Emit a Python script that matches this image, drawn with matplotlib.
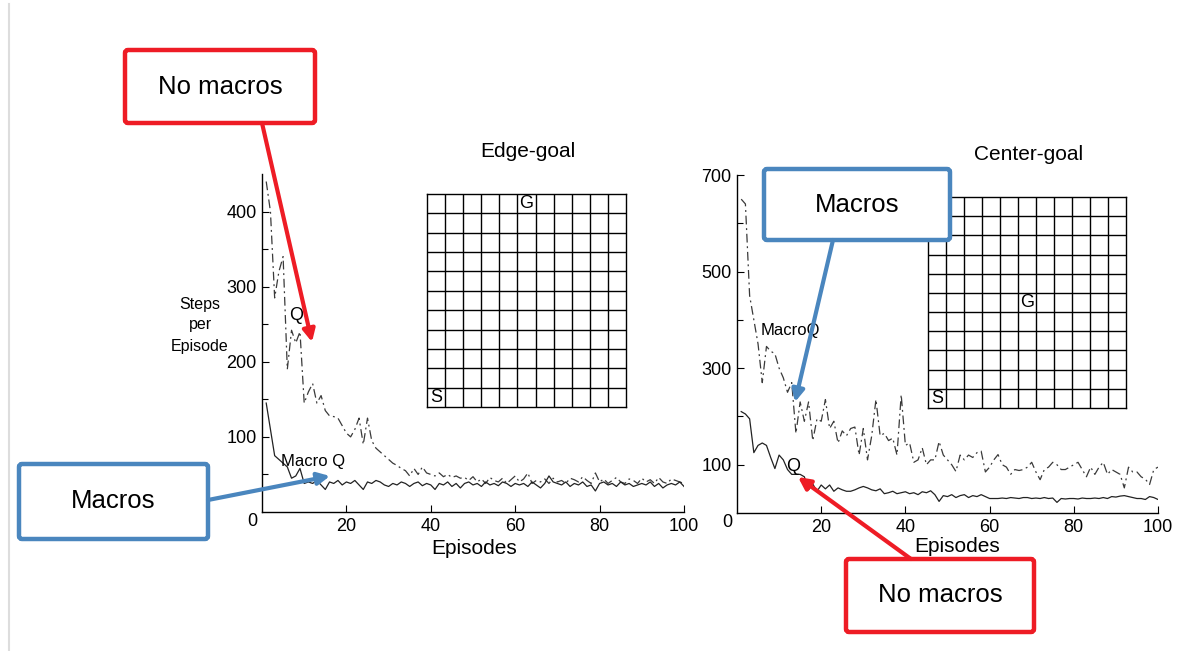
import matplotlib
matplotlib.use("Agg")
import matplotlib.pyplot as plt
from matplotlib.patches import FancyBboxPatch
import numpy as np

plt.rcParams['font.family'] = ['Liberation Sans', 'DejaVu Sans']

# episodes 1..100
episodes = list(range(1, 101))

# Edge-goal: plain Q (dash-dot) and Macro Q (solid)
edge_q = [440, 400, 285, 320, 340, 190, 242, 225, 240, 145,
          160, 171, 145, 155, 135, 128, 127, 125, 115, 105,
          100, 110, 125, 90, 125, 95, 85, 80, 75, 70,
          65, 62, 58, 55, 48, 58, 50, 60, 52, 50,
          48, 52, 47, 50, 46, 48, 45, 46, 42, 47,
          40, 44, 38, 46, 42, 40, 45, 38, 43, 48,
          40, 44, 52, 38, 42, 40, 44, 38, 45, 40,
          42, 38, 45, 43, 40, 47, 42, 38, 52, 40,
          44, 38, 42, 46, 40, 38, 44, 42, 38, 45,
          40, 43, 38, 46, 40, 38, 44, 42, 40, 38]
edge_macro = [145, 110, 75, 70, 65, 60, 45, 48, 58, 38,
              40, 38, 42, 36, 30, 40, 38, 42, 36, 40,
              38, 42, 36, 30, 40, 38, 42, 40, 36, 34,
              38, 36, 40, 38, 34, 38, 40, 35, 38, 36,
              30, 38, 36, 40, 34, 38, 32, 38, 40, 36,
              38, 34, 40, 36, 38, 35, 40, 38, 34, 38,
              36, 38, 34, 40, 36, 32, 38, 48, 40, 38,
              36, 40, 34, 38, 36, 40, 34, 36, 28, 38,
              40, 36, 38, 34, 40, 36, 38, 34, 36, 38,
              36, 40, 34, 38, 32, 36, 38, 36, 40, 34]

# Center-goal: MacroQ (dash-dot) and plain Q (solid)
center_macro = [650, 640, 450, 400, 350, 270, 345, 335, 330, 300,
                280, 250, 270, 165, 230, 190, 230, 150, 195, 190,
                235, 175, 190, 145, 170, 160, 175, 178, 120, 175,
                110, 160, 235, 160, 165, 150, 155, 120, 245, 140,
                145, 105, 110, 135, 100, 110, 110, 148, 120, 110,
                100, 86, 120, 110, 120, 115, 125, 128, 85, 95,
                110, 121, 100, 95, 80, 90, 88, 90, 95, 105,
                85, 69, 90, 95, 105, 100, 90, 90, 95, 100,
                105, 90, 75, 95, 80, 95, 105, 80, 90, 85,
                80, 52, 95, 85, 85, 75, 70, 59, 90, 95]
center_q = [210, 205, 195, 125, 140, 145, 140, 115, 92, 120,
            110, 90, 80, 80, 80, 75, 48, 60, 45, 58,
            50, 58, 45, 52, 48, 45, 45, 48, 52, 55,
            52, 48, 46, 50, 40, 42, 45, 40, 42, 44,
            40, 42, 38, 44, 42, 46, 38, 24, 36, 34,
            38, 32, 36, 38, 32, 36, 34, 38, 34, 30,
            30, 30, 31, 30, 32, 31, 30, 32, 32, 30,
            31, 30, 32, 30, 31, 22, 30, 29, 30, 30,
            29, 31, 30, 30, 31, 30, 32, 30, 34, 33,
            35, 36, 34, 32, 30, 30, 28, 34, 32, 28]

grid_n = 11
edge_goal = (5, 10)
center_goal = (5, 5)
start = (0, 0)

W, H = 1179, 651
fig = plt.figure(figsize=(W / 100, H / 100), dpi=100)


def px_axes(x0, y0, x1, y1, **kw):
    return fig.add_axes([x0 / W, 1 - y1 / H, (x1 - x0) / W, (y1 - y0) / H], **kw)


dashdot = (0, (7, 3, 1.5, 3))


def style_axes(ax, ymax, majors, minors):
    ax.set_xlim(0, 100)
    ax.set_ylim(0, ymax)
    for s in ['top', 'right']:
        ax.spines[s].set_visible(False)
    for s in ['left', 'bottom']:
        ax.spines[s].set_linewidth(1.0)
    ax.set_xticks([20, 40, 60, 80, 100])
    ax.set_yticks(majors)
    ax.set_yticks(minors, minor=True)
    ax.tick_params(direction='in', length=5, width=0.8, labelsize=13, pad=4)
    ax.tick_params(which='minor', direction='in', length=4, width=0.8)
    ax.annotate('0', (0, 0), xytext=(-7, -7), textcoords='offset points',
                ha='center', va='center', fontsize=13)


# left chart
ax1 = px_axes(262, 174, 684, 512)
ax1.plot(episodes, edge_q, color='#3a3a3a', lw=0.9, ls=dashdot)
ax1.plot(episodes, edge_macro, color='#222222', lw=0.9)
style_axes(ax1, 450, [100, 200, 300, 400], [50, 150, 250, 350])
ax1.text(8.1, 261, 'Q', fontsize=13, ha='center', va='center')
ax1.text(12.1, 67, 'Macro Q', fontsize=12, ha='center', va='center')

# right chart
ax2 = px_axes(737, 175, 1158, 513)
ax2.plot(episodes, center_macro, color='#3a3a3a', lw=0.9, ls=dashdot)
ax2.plot(episodes, center_q, color='#222222', lw=0.9)
style_axes(ax2, 700, [100, 300, 500, 700], [200, 400, 600])
ax2.text(12.6, 377, 'MacroQ', fontsize=12, ha='center', va='center')
ax2.text(13.3, 97, 'Q', fontsize=13, ha='center', va='center')


def gridworld(ax, goal):
    ax.set_xlim(0, grid_n)
    ax.set_ylim(0, grid_n)
    ax.set_xticks([])
    ax.set_yticks([])
    for s in ax.spines.values():
        s.set_linewidth(1.0)
    ax.vlines(range(1, grid_n), 0, grid_n, color='black', lw=1.0)
    ax.hlines(range(1, grid_n), 0, grid_n, color='black', lw=1.0)
    ax.text(goal[0] + 0.5, goal[1] + 0.5, 'G', fontsize=13, ha='center', va='center')
    ax.text(start[0] + 0.5, start[1] + 0.5, 'S', fontsize=13, ha='center', va='center')


gridworld(px_axes(427, 194, 626, 407), edge_goal)
gridworld(px_axes(928, 197, 1126, 408), center_goal)

fig.text(528 / W, 1 - 152 / H, 'Edge-goal', fontsize=15, ha='center', va='center')
fig.text(1029 / W, 1 - 155 / H, 'Center-goal', fontsize=15, ha='center', va='center')
fig.text(474 / W, 1 - 549 / H, 'Episodes', fontsize=15, ha='center', va='center')
fig.text(957 / W, 1 - 547 / H, 'Episodes', fontsize=15, ha='center', va='center')
fig.text(200 / W, 1 - 325 / H, 'Steps\nper\nEpisode', fontsize=11.5, ha='center',
         va='center', linespacing=1.5)

# overlay for callout boxes and arrows
ov = fig.add_axes([0, 0, 1, 1], zorder=10)
ov.set_xlim(0, W)
ov.set_ylim(H, 0)
ov.axis('off')
ov.patch.set_alpha(0)

ov.plot([9, 9], [4, H], color='#dddddd', lw=1.5)

red = '#ee1c25'
blue = '#4a86be'
callouts = [
    ('No macros', red, (125, 50, 315, 123), (262, 123), (312, 342)),
    ('Macros', blue, (19, 464, 208, 539), (208, 500), (330, 476)),
    ('Macros', blue, (764, 169, 950, 240), (833, 240), (795, 402)),
    ('No macros', red, (846, 559, 1034, 632), (911, 559), (798, 477)),
]
for label, col, (x0, y0, x1, y1), tail, head in callouts:
    ov.annotate('', xy=head, xytext=tail,
                arrowprops=dict(arrowstyle='-|>', color=col, lw=3, mutation_scale=18,
                                shrinkA=0, shrinkB=0))
    box = FancyBboxPatch((x0, y0), x1 - x0, y1 - y0,
                         boxstyle='round,pad=0,rounding_size=3',
                         fc='white', ec=col, lw=3.2)
    ov.add_patch(box)
    ov.text((x0 + x1) / 2, (y0 + y1) / 2, label, fontsize=18.5, ha='center', va='center')

fig.savefig('out.png', dpi=100)
